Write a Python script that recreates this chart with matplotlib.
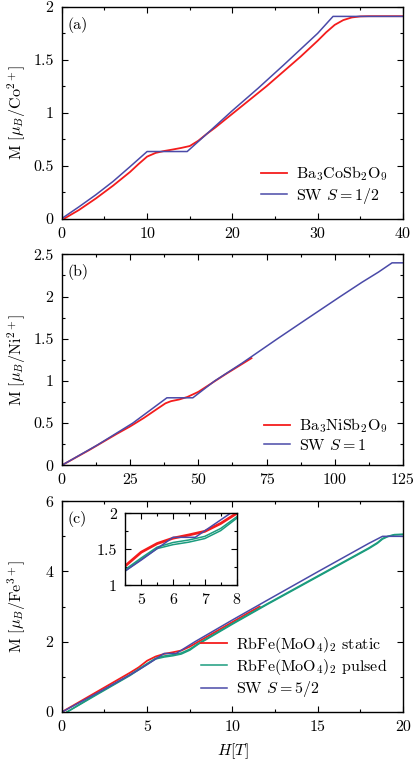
import numpy as np
import matplotlib
matplotlib.use('Agg')
import matplotlib.pyplot as plt
from matplotlib.ticker import MultipleLocator, FormatStrFormatter

plt.rcParams['font.family'] = 'serif'
plt.rcParams['font.serif'] = ['cmr10']
plt.rcParams['mathtext.fontset'] = 'cm'
plt.rcParams['axes.formatter.use_mathtext'] = True
plt.rcParams['font.size'] = 11.5

RED = '#f41c1c'
BLUE = '#4a4aa8'
TEAL = '#1b9c7e'

# panel (a): Ba3CoSb2O9
a_sw_h = [0, 2, 4, 6, 8, 10, 14.7, 17, 20, 23, 26, 28, 30, 31.8, 40]
a_sw_m = [0, 0.11, 0.225, 0.35, 0.49, 0.633, 0.633, 0.80, 1.02, 1.23, 1.45, 1.60, 1.75, 1.91, 1.91]
a_exp_h = [0.3, 2, 4, 6, 8, 9, 10, 11, 12, 13, 14, 15, 16, 17, 18, 19, 20, 22, 24, 26,
           28, 30, 31, 32, 33, 34, 35, 36, 40]
a_exp_m = [0, 0.08, 0.19, 0.31, 0.44, 0.515, 0.585, 0.62, 0.638, 0.652, 0.667, 0.685, 0.735,
           0.80, 0.86, 0.925, 0.99, 1.12, 1.25, 1.39, 1.53, 1.68, 1.76, 1.83, 1.875, 1.90,
           1.91, 1.912, 1.912]

# panel (b): Ba3NiSb2O9
b_sw_h = [0, 13, 26, 38.5, 48, 56, 66, 79, 90, 102, 110, 116, 121, 125]
b_sw_m = [0, 0.24, 0.5, 0.8, 0.8, 1.0, 1.21, 1.5, 1.74, 2.0, 2.17, 2.29, 2.4, 2.4]
b_exp_h = [0, 10, 20, 25, 30, 35, 38, 40, 43, 46, 50, 55, 60, 65, 69.5]
b_exp_m = [0, 0.18, 0.37, 0.46, 0.56, 0.67, 0.735, 0.76, 0.78, 0.81, 0.87, 0.975, 1.08, 1.18, 1.27]

# panel (c): RbFe(MoO4)2
c_sw_h = [0, 2, 4, 4.5, 5, 5.5, 6.0, 6.7, 7.8, 10, 12, 15, 18, 18.8, 20]
c_sw_m = [0, 0.52, 1.06, 1.2, 1.35, 1.51, 1.667, 1.667, 2.0, 2.62, 3.17, 3.99, 4.8, 5.0, 5.0]
c_st_h = [0, 1, 2, 3, 4, 4.5, 5, 5.5, 6, 6.5, 7, 7.5, 8, 9, 10, 11, 11.6]
c_st_m = [0, 0.28, 0.56, 0.84, 1.12, 1.27, 1.46, 1.58, 1.655, 1.70, 1.75, 1.86, 2.0, 2.28,
          2.56, 2.84, 3.0]
c_pu_h = [0.3, 2, 4, 4.5, 5, 5.5, 6, 6.5, 7, 7.5, 8, 10, 12, 15, 18, 18.5, 18.8, 19.1, 19.5, 20]
c_pu_up = [0, 0.48, 1.04, 1.2, 1.36, 1.51, 1.565, 1.60, 1.65, 1.76, 1.93, 2.5, 3.05, 3.85,
           4.65, 4.8, 4.92, 4.99, 5.04, 5.05]
c_pu_dn = [0, 0.5, 1.06, 1.22, 1.38, 1.53, 1.595, 1.63, 1.68, 1.79, 1.95, 2.52, 3.07, 3.87,
           4.67, 4.82, 4.94, 5.0, 5.05, 5.06]

fig = plt.figure(figsize=(4.15, 7.64), dpi=100)
L, W = 0.149, 0.822
ax1 = fig.add_axes([L, 0.714, W, 0.277])
ax2 = fig.add_axes([L, 0.391, W, 0.276])
ax3 = fig.add_axes([L, 0.068, W, 0.276])
axi = fig.add_axes([0.302, 0.234, 0.268, 0.094])


def style(ax, major_x, minor_x, major_y, minor_y):
    ax.xaxis.set_major_locator(MultipleLocator(major_x))
    ax.xaxis.set_minor_locator(MultipleLocator(minor_x))
    ax.yaxis.set_major_locator(MultipleLocator(major_y))
    ax.yaxis.set_minor_locator(MultipleLocator(minor_y))
    ax.xaxis.set_major_formatter(FormatStrFormatter('%g'))
    ax.yaxis.set_major_formatter(FormatStrFormatter('%g'))
    ax.tick_params(which='both', direction='in', top=True, right=True, width=0.8)
    ax.tick_params(which='major', length=4.5, pad=6)
    ax.tick_params(which='minor', length=2.5)
    for s in ax.spines.values():
        s.set_linewidth(1.0)


leg_kw = dict(loc='lower right', bbox_to_anchor=(0.955, 0.06), frameon=False,
              handlelength=1.6, handletextpad=0.6, labelspacing=0.15,
              borderaxespad=0, borderpad=0)

ax1.plot(a_exp_h, a_exp_m, color=RED, lw=1.3, label=r'Ba$_3$CoSb$_2$O$_9$')
ax1.plot(a_sw_h, a_sw_m, color=BLUE, lw=1.1, label=r'SW $S=1/2$')
ax1.set_xlim(0, 40)
ax1.set_ylim(0, 2)
style(ax1, 10, 5, 0.5, 0.25)
ax1.set_ylabel(r'M $[\mu_B/\mathrm{Co}^{2+}]$')
ax1.text(0.018, 0.915, '(a)', transform=ax1.transAxes, va='center')
ax1.legend(**leg_kw)

ax2.plot(b_exp_h, b_exp_m, color=RED, lw=1.3, label=r'Ba$_3$NiSb$_2$O$_9$')
ax2.plot(b_sw_h, b_sw_m, color=BLUE, lw=1.1, label=r'SW $S=1$')
ax2.set_xlim(0, 125)
ax2.set_ylim(0, 2.5)
style(ax2, 25, 12.5, 0.5, 0.25)
ax2.set_ylabel(r'M $[\mu_B/\mathrm{Ni}^{2+}]$')
ax2.text(0.018, 0.915, '(b)', transform=ax2.transAxes, va='center')
ax2.legend(**leg_kw)

ax3.plot(c_st_h, c_st_m, color=RED, lw=1.3, label=r'RbFe(MoO$_4$)$_2$ static')
ax3.plot(c_pu_h, c_pu_up, color=TEAL, lw=1.1, label=r'RbFe(MoO$_4$)$_2$ pulsed')
ax3.plot(c_pu_h, c_pu_dn, color=TEAL, lw=1.1)
ax3.plot(c_sw_h, c_sw_m, color=BLUE, lw=1.1, label=r'SW $S=5/2$')
ax3.set_xlim(0, 20)
ax3.set_ylim(0, 6)
style(ax3, 5, 2.5, 2, 1)
ax3.set_ylabel(r'M $[\mu_B/\mathrm{Fe}^{3+}]$')
ax3.set_xlabel(r'$H[T]$', labelpad=5)
ax3.text(0.018, 0.915, '(c)', transform=ax3.transAxes, va='center')
ax3.legend(**leg_kw)

for ax in (ax1, ax2, ax3):
    ax.yaxis.set_label_coords(-0.10, 0.5)

axi.plot(c_st_h, c_st_m, color=RED, lw=2.0)
axi.plot(c_pu_h, c_pu_up, color=TEAL, lw=1.1)
axi.plot(c_pu_h, c_pu_dn, color=TEAL, lw=1.1)
axi.plot(c_sw_h, c_sw_m, color=BLUE, lw=1.1)
axi.set_xlim(4.5, 8)
axi.set_ylim(1, 2)
style(axi, 1, 0.5, 0.5, 0.25)

fig.savefig('out.png', dpi=100)
